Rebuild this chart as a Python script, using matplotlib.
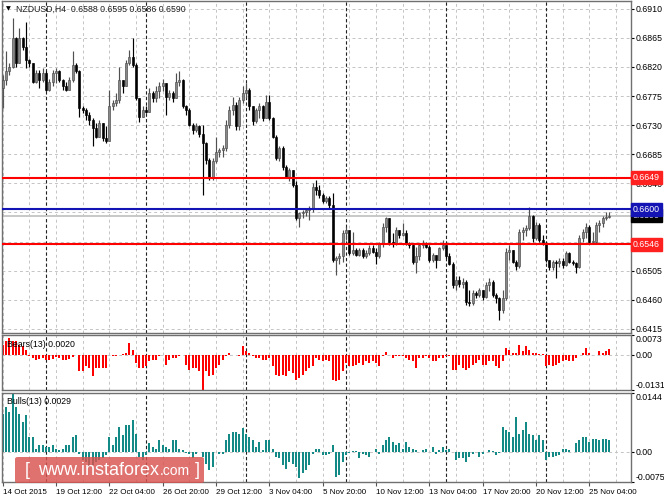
import numpy as np
import matplotlib
matplotlib.use('Agg')
import matplotlib.pyplot as plt
import matplotlib.transforms as mtransforms
from matplotlib.patches import FancyBboxPatch

# NZDUSD H4 candles, 14 Oct 2015 20:00 .. 26 Nov 2015
first_open = 0.6787
closes = [
  0.6800,0.6813,0.6820,0.6864,0.6826,0.6864,0.6851,0.6831,0.6826,0.6797,
  0.6810,0.6800,0.6810,0.6784,0.6797,0.6810,0.6813,0.6800,0.6790,0.6784,
  0.6800,0.6823,0.6813,0.6756,0.6753,0.6746,0.6738,0.6725,0.6712,0.6733,
  0.6710,0.6705,0.6759,0.6764,0.6769,0.6800,0.6790,0.6826,0.6836,0.6823,
  0.6772,0.6743,0.6753,0.6751,0.6779,0.6772,0.6782,0.6790,0.6795,0.6774,
  0.6779,0.6772,0.6797,0.6800,0.6759,0.6754,0.6730,0.6723,0.6728,0.6717,
  0.6702,0.6676,0.6650,0.6674,0.6689,0.6692,0.6694,0.6730,0.6754,0.6761,
  0.6728,0.6769,0.6779,0.6784,0.6759,0.6736,0.6754,0.6759,0.6741,0.6766,
  0.6741,0.6712,0.6679,0.6694,0.6666,0.6650,0.6661,0.6638,0.6586,0.6594,
  0.6596,0.6599,0.6601,0.6635,0.6630,0.6622,0.6612,0.6617,0.6606,0.6522,
  0.6524,0.6527,0.6563,0.6568,0.6532,0.6537,0.6529,0.6537,0.6527,0.6532,
  0.6540,0.6534,0.6527,0.6547,0.6573,0.6586,0.6550,0.6547,0.6568,0.6560,
  0.6563,0.6547,0.6545,0.6519,0.6527,0.6545,0.6547,0.6542,0.6522,0.6529,
  0.6522,0.6540,0.6545,0.6527,0.6516,0.6483,0.6490,0.6485,0.6488,0.6457,
  0.6455,0.6470,0.6467,0.6475,0.6465,0.6483,0.6488,0.6467,0.6462,0.6444,
  0.6462,0.6534,0.6537,0.6519,0.6512,0.6565,0.6568,0.6571,0.6589,0.6555,
  0.6576,0.6553,0.6547,0.6522,0.6511,0.6519,0.6517,0.6520,0.6514,0.6532,
  0.6519,0.6517,0.6511,0.6555,0.6565,0.6573,0.6550,0.6550,0.6576,0.6578,
  0.6586,0.6588,0.6590]
highs = [
  0.6808,0.6844,0.6826,0.6895,0.6867,0.6880,0.6867,0.6890,0.6833,0.6826,
  0.6815,0.6815,0.6818,0.6813,0.6802,0.6815,0.6818,0.6815,0.6802,0.6797,
  0.6805,0.6844,0.6826,0.6815,0.6759,0.6756,0.6751,0.6741,0.6733,0.6738,
  0.6733,0.6728,0.6784,0.6769,0.6779,0.6820,0.6800,0.6831,0.6846,0.6864,
  0.6826,0.6772,0.6759,0.6759,0.6787,0.6782,0.6790,0.6797,0.6802,0.6795,
  0.6784,0.6782,0.6810,0.6813,0.6802,0.6761,0.6756,0.6733,0.6733,0.6730,
  0.6730,0.6704,0.6679,0.6679,0.6712,0.6694,0.6700,0.6738,0.6759,0.6774,
  0.6766,0.6774,0.6790,0.6795,0.6787,0.6759,0.6756,0.6764,0.6761,0.6777,
  0.6777,0.6743,0.6714,0.6697,0.6697,0.6668,0.6664,0.6661,0.6643,0.6596,
  0.6599,0.6601,0.6605,0.6640,0.6645,0.6637,0.6625,0.6620,0.6620,0.6625,
  0.6527,0.6532,0.6568,0.6573,0.6568,0.6565,0.6540,0.6540,0.6540,0.6537,
  0.6545,0.6545,0.6540,0.6550,0.6578,0.6588,0.6586,0.6563,0.6573,0.6568,
  0.6578,0.6568,0.6550,0.6547,0.6542,0.6547,0.6552,0.6550,0.6545,0.6532,
  0.6529,0.6542,0.6552,0.6545,0.6532,0.6519,0.6496,0.6496,0.6493,0.6490,
  0.6475,0.6475,0.6473,0.6478,0.6475,0.6488,0.6493,0.6490,0.6470,0.6465,
  0.6475,0.6540,0.6545,0.6537,0.6522,0.6570,0.6573,0.6576,0.6604,0.6591,
  0.6580,0.6578,0.6560,0.6550,0.6522,0.6522,0.6522,0.6525,0.6524,0.6535,
  0.6534,0.6522,0.6519,0.6560,0.6570,0.6578,0.6576,0.6565,0.6580,0.6583,
  0.6589,0.6595,0.6595]
lows = [
  0.6756,0.6792,0.6808,0.6818,0.6820,0.6826,0.6846,0.6818,0.6820,0.6795,
  0.6795,0.6787,0.6797,0.6782,0.6782,0.6790,0.6795,0.6797,0.6784,0.6782,
  0.6784,0.6797,0.6810,0.6743,0.6748,0.6738,0.6730,0.6697,0.6710,0.6712,
  0.6705,0.6702,0.6705,0.6753,0.6759,0.6764,0.6779,0.6790,0.6823,0.6820,
  0.6769,0.6735,0.6743,0.6748,0.6751,0.6766,0.6766,0.6772,0.6782,0.6746,
  0.6769,0.6766,0.6772,0.6790,0.6756,0.6746,0.6728,0.6717,0.6720,0.6712,
  0.6622,0.6670,0.6645,0.6645,0.6672,0.6681,0.6681,0.6690,0.6725,0.6746,
  0.6723,0.6723,0.6764,0.6772,0.6754,0.6730,0.6733,0.6741,0.6736,0.6741,
  0.6738,0.6710,0.6676,0.6674,0.6661,0.6648,0.6643,0.6635,0.6583,0.6573,
  0.6586,0.6589,0.6584,0.6596,0.6622,0.6617,0.6609,0.6609,0.6601,0.6519,
  0.6498,0.6516,0.6519,0.6552,0.6529,0.6529,0.6527,0.6527,0.6524,0.6524,
  0.6529,0.6532,0.6516,0.6524,0.6542,0.6565,0.6545,0.6542,0.6545,0.6555,
  0.6558,0.6545,0.6540,0.6516,0.6501,0.6522,0.6540,0.6540,0.6519,0.6519,
  0.6509,0.6522,0.6537,0.6524,0.6514,0.6478,0.6475,0.6480,0.6478,0.6452,
  0.6450,0.6452,0.6462,0.6465,0.6460,0.6462,0.6473,0.6465,0.6455,0.6429,
  0.6440,0.6460,0.6522,0.6517,0.6506,0.6509,0.6552,0.6558,0.6568,0.6550,
  0.6552,0.6550,0.6545,0.6519,0.6506,0.6506,0.6493,0.6511,0.6509,0.6512,
  0.6517,0.6514,0.6501,0.6509,0.6550,0.6555,0.6547,0.6547,0.6547,0.6565,
  0.6573,0.6583,0.6586]

bears = [
  0.0037,0.0049,0.0062,0.0049,0.0049,0.0037,0.0031,0.0019,-0.0004,-0.0012,
  -0.0019,-0.0015,-0.0012,-0.0019,-0.0019,-0.0015,-0.0010,-0.0012,-0.0019,-0.0019,
  -0.0015,-0.0010,-0.0001,-0.0059,-0.0059,-0.0043,-0.0049,-0.0080,-0.0049,-0.0049,
  -0.0049,-0.0049,-0.0001,-0.0004,-0.0006,-0.0002,0.0001,0.0006,0.0043,0.0019,
  -0.0031,-0.0049,-0.0049,-0.0043,-0.0025,-0.0019,-0.0019,-0.0006,-0.0001,-0.0037,
  -0.0019,-0.0012,-0.0012,-0.0006,-0.0001,-0.0037,-0.0056,-0.0049,-0.0049,-0.0062,
  -0.0131,-0.0062,-0.0080,-0.0074,-0.0049,-0.0037,-0.0019,-0.0006,0.0006,-0.0001,
  -0.0002,-0.0006,0.0031,0.0012,0.0006,-0.0006,-0.0012,-0.0012,-0.0019,-0.0019,
  -0.0012,-0.0043,-0.0074,-0.0080,-0.0074,-0.0080,-0.0062,-0.0068,-0.0093,-0.0087,
  -0.0074,-0.0062,-0.0049,-0.0043,-0.0012,-0.0019,-0.0025,-0.0019,-0.0025,-0.0093,
  -0.0099,-0.0093,-0.0062,-0.0031,-0.0043,-0.0043,-0.0037,-0.0031,-0.0037,-0.0025,
  -0.0031,-0.0025,-0.0031,-0.0043,-0.0006,0.0010,-0.0002,-0.0012,-0.0006,-0.0006,
  -0.0006,-0.0012,-0.0019,-0.0025,-0.0049,-0.0012,-0.0012,-0.0006,-0.0012,-0.0025,
  -0.0025,-0.0012,-0.0012,-0.0006,-0.0006,-0.0056,-0.0056,-0.0037,-0.0049,-0.0056,
  -0.0049,-0.0037,-0.0031,-0.0019,-0.0037,-0.0037,-0.0025,-0.0025,-0.0043,-0.0049,
  -0.0025,0.0025,0.0019,0.0006,0.0006,0.0037,0.0012,0.0031,0.0019,0.0006,
  0.0006,0.0002,0.0002,-0.0043,-0.0037,-0.0043,-0.0037,-0.0031,-0.0025,-0.0019,
  -0.0025,-0.0025,-0.0012,-0.0001,0.0006,0.0025,0.0006,-0.0002,-0.0002,0.0012,
  0.0006,0.0015,0.0020]
bulls = [
  0.0093,0.0110,0.0098,0.0144,0.0110,0.0093,0.0073,0.0089,0.0036,0.0036,
  0.0007,0.0016,0.0016,0.0011,0.0011,0.0016,0.0007,0.0003,0.0007,0.0016,
  0.0016,0.0036,0.0040,-0.0005,-0.0021,-0.0025,-0.0038,-0.0034,-0.0025,-0.0021,
  -0.0017,-0.0009,0.0036,0.0016,0.0036,0.0061,0.0040,0.0065,0.0065,0.0077,
  0.0044,-0.0013,-0.0021,-0.0009,0.0020,0.0011,0.0007,0.0028,0.0016,0.0011,
  0.0007,0.0028,0.0028,0.0007,0.0003,-0.0003,-0.0005,-0.0017,-0.0005,-0.0001,
  -0.0013,-0.0030,-0.0046,-0.0038,-0.0001,-0.0005,-0.0005,0.0028,0.0044,0.0048,
  0.0048,0.0044,0.0057,0.0044,0.0036,0.0028,0.0011,0.0024,0.0003,0.0028,
  0.0028,0.0007,-0.0013,-0.0017,-0.0034,-0.0042,-0.0025,-0.0030,-0.0038,-0.0066,
  -0.0054,-0.0046,-0.0034,-0.0005,0.0007,0.0007,-0.0009,-0.0009,-0.0005,0.0016,
  -0.0062,-0.0058,-0.0025,-0.0009,-0.0003,0.0002,0.0002,-0.0017,-0.0005,-0.0009,
  -0.0013,-0.0001,0.0007,-0.0005,0.0016,0.0028,0.0036,0.0024,0.0016,0.0020,
  0.0007,0.0024,0.0011,0.0007,0.0003,-0.0001,0.0003,0.0007,-0.0001,0.0011,
  -0.0005,0.0003,0.0011,0.0003,0.0007,-0.0001,-0.0021,-0.0017,-0.0017,-0.0025,
  -0.0013,-0.0005,-0.0001,-0.0013,-0.0005,-0.0001,0.0003,0.0002,-0.0009,-0.0003,
  0.0061,0.0052,0.0048,0.0036,0.0085,0.0044,0.0052,0.0073,0.0044,0.0040,
  0.0028,0.0040,0.0028,-0.0021,-0.0013,-0.0013,-0.0011,-0.0009,0.0007,0.0005,
  0.0003,-0.0001,0.0020,0.0028,0.0036,0.0036,0.0024,0.0030,0.0030,0.0028,
  0.0032,0.0030,0.0029]

date_bars = [0, 16, 32, 48, 64, 80, 96, 112, 128, 144, 160, 176]
date_labels = ['14 Oct 2015', '19 Oct 12:00', '22 Oct 04:00', '26 Oct 20:00',
               '29 Oct 12:00', '3 Nov 04:00', '5 Nov 20:00', '10 Nov 12:00',
               '13 Nov 04:00', '17 Nov 20:00', '20 Nov 12:00', '25 Nov 04:00']
week_start_bars = [13, 43, 73, 103, 133, 163]
price_ticks = [0.6910, 0.6865, 0.6820, 0.6775, 0.6730, 0.6685, 0.6640,
               0.6595, 0.6550, 0.6505, 0.6460, 0.6415]
red_levels = [0.6649, 0.6546]
blue_level = 0.6600
bid_price = 0.6590
title_ohlc = '0.6588 0.6595 0.6586 0.6590'
bears_range = (-0.0131, 0.0073)
bulls_range = (-0.0075, 0.0144)

W, H = 664, 498
FS = 6.3
plt.rcParams['font.family'] = ['Liberation Sans', 'DejaVu Sans']
plt.rcParams['font.size'] = FS

o = np.array([first_open] + closes[:-1])
c = np.array(closes)
hi = np.array(highs)
lo = np.array(lows)
x = np.arange(len(c))

def frame(left, top, right, bottom):
  # pixel box (from top-left) -> figure fraction rect
  return [left / W, 1 - bottom / H, (right - left) / W, (bottom - top) / H]

fig = plt.figure(figsize=(W / 100, H / 100), dpi=100)
ax = fig.add_axes(frame(2, 1, 631, 333))
axb = fig.add_axes(frame(2, 335, 631, 390))
axu = fig.add_axes(frame(2, 393, 631, 482))

grid_kw = dict(color='#c4c4c4', lw=0.7, ls=(0, (3, 3)), zorder=0)
sep_kw = dict(color='#222222', lw=0.8, ls=(0, (3, 2)), zorder=0.5)

for a in (ax, axb, axu):
  a.set_xlim(-0.2, 188.5)
  for b in range(0, 189, 8):
    a.axvline(b, **grid_kw)
  for b in week_start_bars:
    a.axvline(b, **sep_kw)
  for s in a.spines.values():
    s.set_color('#707070')
    s.set_linewidth(1.0)
  a.yaxis.tick_right()
  a.tick_params(axis='y', direction='out', length=2.5, pad=0.8, colors='black', labelsize=FS)
  a.tick_params(axis='x', length=0)
  a.set_xticks([])

# main price panel
ax.set_ylim(0.64086, 0.69219)
ax.set_yticks(price_ticks)
ax.set_yticklabels(['%.4f' % p for p in price_ticks])
for p in price_ticks:
  ax.axhline(p, **grid_kw)

up = c >= o
wick_col = np.where(up, '#505050', '#000000')
ax.vlines(x, lo, hi, colors=wick_col, lw=0.85, zorder=2)
body_bottom = np.minimum(o, c)
body_h = np.maximum(np.abs(c - o), 0.00004)
ax.bar(x[up], body_h[up], bottom=body_bottom[up], width=0.64,
       color='#888888', edgecolor='#4a4a4a', linewidth=0.45, zorder=3)
ax.bar(x[~up], body_h[~up], bottom=body_bottom[~up], width=0.64,
       color='#000000', edgecolor='#000000', linewidth=0.45, zorder=3)

ax.axhline(bid_price, color='#c8c8c8', lw=1.4, zorder=1.5)
for lvl in red_levels:
  ax.axhline(lvl, color='#ff0000', lw=1.5, zorder=4)
ax.axhline(blue_level, color='#1414b4', lw=1.5, zorder=4)

tr = mtransforms.blended_transform_factory(ax.transAxes, ax.transData)
def price_box(val, fc):
  ax.text(1.003, val, '%.4f' % val, transform=tr, ha='left', va='center',
          color='white', fontsize=FS, clip_on=False, zorder=10,
          bbox=dict(boxstyle='square,pad=0.22', fc=fc, ec=fc))
price_box(bid_price, '#000000')
price_box(blue_level, '#1414b4')
for lvl in red_levels:
  price_box(lvl, '#ff2020')

ax.text(0.006, 0.976, '\u25bc', transform=ax.transAxes, fontsize=4.5, va='center', ha='left',
        family='DejaVu Sans')
ax.text(0.022, 0.976, 'NZDUSD,H4  ' + title_ohlc, transform=ax.transAxes,
        fontsize=FS, va='center', ha='left', color='#202020')

# Bears power
axb.set_ylim(*bears_range)
axb.bar(x, bears, width=0.65, color='#ff0000', zorder=2)
axb.axhline(0, **grid_kw)
axb.set_yticks([bears_range[1], 0, bears_range[0]])
lbls = axb.set_yticklabels(['%.4f' % bears_range[1], '0.00', '%.4f' % bears_range[0]])
lbls[0].set_va('top')
lbls[2].set_va('bottom')
axb.text(0.008, 0.82, 'Bears(13) %.4f' % bears[-1], transform=axb.transAxes,
         fontsize=FS, va='center', ha='left', zorder=5)

# Bulls power
axu.set_ylim(*bulls_range)
axu.bar(x, bulls, width=0.65, color='#138a86', zorder=2)
axu.axhline(0, **grid_kw)
axu.set_yticks([bulls_range[1], 0, bulls_range[0]])
lbls = axu.set_yticklabels(['%.4f' % bulls_range[1], '0.00', '%.4f' % bulls_range[0]])
lbls[0].set_va('top')
lbls[2].set_va('bottom')
axu.text(0.008, 0.9, 'Bulls(13) %.4f' % bulls[-1], transform=axu.transAxes,
         fontsize=FS, va='center', ha='left', zorder=5)

axu.set_xticks(date_bars)
axu.set_xticklabels(date_labels, ha='left')
axu.tick_params(axis='x', length=3, direction='out', pad=2, labelsize=5.8, color='#555555')

# watermark
box = FancyBboxPatch((15 / W, 1 - 483 / H), 189 / W, 26 / H,
                     boxstyle='round,pad=0,rounding_size=0.004',
                     transform=fig.transFigure, fc='#d9534f', ec='none', alpha=0.82, zorder=20)
fig.patches.append(box)
wy = 1 - 470 / H
fig.text(25 / W, wy, '[', color='white', fontsize=13, va='center', ha='left', zorder=21)
t_main = fig.text(38 / W, wy, 'www.instaforex', color='white', fontsize=13,
                  va='center', ha='left', zorder=21)
fig.canvas.draw()
ext = t_main.get_window_extent(fig.canvas.get_renderer())
fig.text(ext.x1 / W + 0.001, wy - 0.002, '.com', color='white', fontsize=10,
         va='center', ha='left', zorder=21)
fig.text(195 / W, wy, ']', color='white', fontsize=13, va='center', ha='left', zorder=21)

fig.savefig('out.png', dpi=100)
